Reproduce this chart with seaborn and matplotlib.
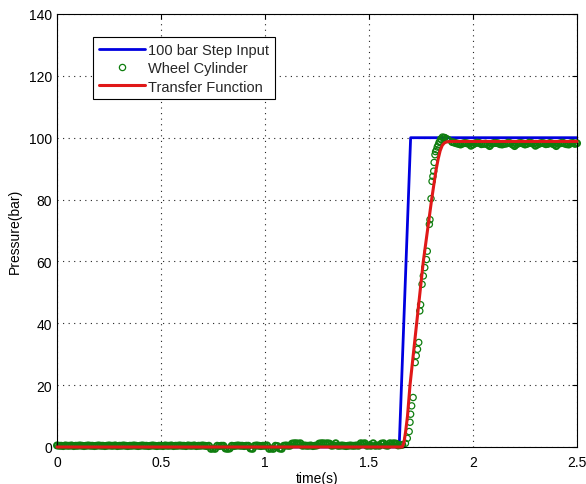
import numpy as np
import matplotlib
matplotlib.use("Agg")
import matplotlib.pyplot as plt
from matplotlib.lines import Line2D
import seaborn as sns

# ---- data -------------------------------------------------------------
# 100 bar step command
step_time = [0.0, 1.645, 1.700, 2.5]
step_pressure = [0.0, 0.0, 100.0, 100.0]

# identified transfer-function response
tf_time = [0.0, 1.660, 1.668, 1.676, 1.685, 1.697, 1.713, 1.729, 1.745, 1.761,
           1.781, 1.801, 1.812, 1.822, 1.832, 1.842, 1.852, 1.862, 1.875, 1.900, 2.5]
tf_pressure = [0.0, 0.0, 1.5, 5.0, 10.0, 20.0, 30.0, 40.0, 50.0, 60.0,
               70.0, 80.0, 85.0, 89.5, 93.0, 95.8, 97.5, 98.3, 98.7, 98.8, 98.8]

# measured wheel-cylinder pressure, idle phase (sampled every 0.01 s from t = 0)
wc_sample_period = 0.01
wc_idle_pressure = [
    0.5, 0.4, 0.4, 0.3, 0.5, 0.4, 0.4, 0.5, 0.3, 0.4,
    0.4, 0.5, 0.4, 0.3, 0.4, 0.5, 0.4, 0.4, 0.3, 0.4,
    0.5, 0.4, 0.4, 0.3, 0.4, 0.5, 0.4, 0.4, 0.5, 0.3,
    0.4, 0.4, 0.5, 0.4, 0.3, 0.4, 0.4, 0.5, 0.4, 0.3,
    0.4, 0.5, 0.4, 0.4, 0.3, 0.4, 0.5, 0.4, 0.3, 0.4,
    0.4, 0.3, 0.5, 0.4, 0.4, 0.5, 0.3, 0.4, 0.4, 0.5,
    0.4, 0.4, 0.3, 0.5, 0.4, 0.4, 0.5, 0.3, 0.4, 0.4,
    0.5, 0.4, 0.3, 0.4, -0.6, -0.5, -0.6, 0.4, 0.3, 0.4,
    0.4, -0.5, -0.6, -0.5, 0.4, 0.3, 0.4, 0.5, 0.4, 0.4,
    0.3, 0.4, 0.4, -0.5, -0.6, 0.4, 0.5, 0.4, 0.3, 0.4,
    0.4, 0.5, -0.6, -0.5, -0.6, 0.4, 0.3, -0.5, -0.6, 0.4,
    0.5, 0.4, 0.4, 1.1, 1.2, 1.2, 1.1, 1.2, 0.4, 0.5,
    0.4, 0.4, 0.5, 0.3, 0.4, 0.5, 1.1, 1.2, 1.2, 1.1,
    1.2, 1.1, 0.4, 0.5, 1.2, 0.4, 0.4, 0.5, 0.4, 0.3,
    0.4, 0.5, 0.4, 0.4, 0.5, 0.4, 1.2, 1.1, 1.2, 0.4,
    0.5, 0.4, 1.2, 0.4, 0.5, 0.4, 1.1, 1.2, 0.5, 0.4,
    1.2, 1.1, 1.2, 1.1, 0.5, 0.6, 0.7,
]

# measured wheel-cylinder pressure during the pressure build-up
wc_rise_time = [1.675, 1.684, 1.693, 1.697, 1.700, 1.705, 1.712, 1.722, 1.727, 1.733,
                1.739, 1.744, 1.748, 1.755, 1.761, 1.768, 1.776, 1.780, 1.790, 1.793,
                1.798, 1.803, 1.807, 1.811, 1.813, 1.817, 1.820, 1.825, 1.828, 1.833,
                1.837, 1.841, 1.845, 1.849, 1.853, 1.857, 1.861, 1.865, 1.873, 1.881]
wc_rise_pressure = [1.2, 2.8, 5.0, 8.0, 10.6, 13.3, 16.0, 27.3, 29.5, 31.6,
                    33.8, 44.0, 46.0, 52.6, 55.3, 58.0, 60.6, 63.3, 72.0, 73.5,
                    80.3, 85.9, 87.5, 89.2, 92.0, 94.5, 95.5, 96.1, 97.0, 97.7,
                    98.5, 98.8, 99.6, 99.4, 100.2, 99.9, 100.1, 100.0, 99.7, 99.4]

# measured wheel-cylinder pressure, settled phase (every 0.01 s from t = 1.90)
wc_settle_start = 1.90
wc_settle_pressure = [
    98.6, 98.4, 98.2, 98.0, 97.8, 98.1, 98.3, 98.2, 98.0, 97.4,
    97.8, 98.2, 98.4, 98.3, 97.9, 98.0, 98.1, 97.8, 97.3, 98.0,
    98.3, 98.3, 98.2, 97.9, 97.8, 98.0, 98.1, 98.4, 98.2, 97.8,
    97.3, 97.9, 98.2, 98.3, 98.1, 97.8, 98.0, 98.4, 98.3, 98.0,
    97.4, 97.8, 98.1, 98.3, 98.2, 97.9, 98.0, 98.3, 98.1, 97.8,
    97.3, 98.0, 98.2, 98.4, 98.1, 97.9, 97.8, 98.2, 98.3, 98.0,
    98.2,
]

x_ticks = [0, 0.5, 1, 1.5, 2, 2.5]
x_tick_labels = ["0", "0.5", "1", "1.5", "2", "2.5"]
y_ticks = [0, 20, 40, 60, 80, 100, 120, 140]

legend_labels = ["100 bar Step Input", "Wheel Cylinder", "Transfer Function"]

# ---- assemble the measured series -------------------------------------
wc_idle_time = np.arange(len(wc_idle_pressure)) * wc_sample_period
wc_settle_time = wc_settle_start + np.arange(len(wc_settle_pressure)) * wc_sample_period
wc_steady_time = np.concatenate([wc_idle_time, wc_settle_time])
wc_steady_pressure = np.concatenate([wc_idle_pressure, wc_settle_pressure])

# ---- style ------------------------------------------------------------
sns.set_theme(style="white")
plt.rcParams["font.family"] = ["Liberation Sans", "DejaVu Sans"]
plt.rcParams["axes.unicode_minus"] = False

BLUE = "#0000e0"
GREEN = "#0e7d0e"
RED = "#e01818"

fig = plt.figure(figsize=(5.86, 4.85), dpi=100)
fig.patch.set_facecolor("white")
ax = fig.add_axes([0.0973, 0.0763, 0.8874, 0.8928])
ax.set_facecolor("white")

sns.lineplot(x=step_time, y=step_pressure, color=BLUE, linewidth=2.0,
             estimator=None, sort=False, ax=ax, zorder=2, clip_on=False)
# densely sampled steady phases merge into a solid band of circles
sns.scatterplot(x=wc_steady_time, y=wc_steady_pressure, marker="o", s=19, color=GREEN,
                facecolors="none", edgecolor=GREEN, linewidth=1.4,
                ax=ax, zorder=2.5, clip_on=False, legend=False)
sns.scatterplot(x=wc_rise_time, y=wc_rise_pressure, marker="o", s=20, color=GREEN,
                facecolors="none", edgecolor=GREEN, linewidth=0.9,
                ax=ax, zorder=2.5, clip_on=False, legend=False)
sns.lineplot(x=tf_time, y=tf_pressure, color=RED, linewidth=2.2,
             estimator=None, sort=False, ax=ax, zorder=3, clip_on=False)

ax.set_xlim(0, 2.5)
ax.set_ylim(0, 140)
ax.set_xticks(x_ticks)
ax.set_xticklabels(x_tick_labels)
ax.set_yticks(y_ticks)

ax.grid(True, color="#222222", linestyle=(0, (1, 4)), linewidth=0.8)
for spine in ax.spines.values():
    spine.set_visible(True)
    spine.set_color("black")
    spine.set_linewidth(0.8)

ax.tick_params(axis="both", direction="in", length=3.5, width=0.8, color="black",
               top=True, right=True, labelsize=10, labelcolor="black")
ax.tick_params(axis="x", pad=6)
ax.tick_params(axis="y", pad=3.5)

ax.set_xlabel("time(s)", fontsize=10, color="black", labelpad=1)
ax.set_ylabel("Pressure(bar)", fontsize=10, color="black", labelpad=5)

handles = [
    Line2D([], [], color=BLUE, linewidth=2.0),
    Line2D([], [], color=GREEN, marker="o", linestyle="none", markersize=4.5,
           markerfacecolor="none", markeredgewidth=0.9),
    Line2D([], [], color=RED, linewidth=2.2),
]
leg = ax.legend(handles, legend_labels, loc="upper left",
                bbox_to_anchor=(93 / 586, 1 - 38 / 485), bbox_transform=fig.transFigure,
                borderaxespad=0, fontsize=10.5, frameon=True, fancybox=False,
                framealpha=1, edgecolor="black", handlelength=3.15, handletextpad=0.2,
                labelspacing=0.3, borderpad=0.4)
leg.get_frame().set_linewidth(0.8)

fig.savefig("out.png", dpi=100, facecolor="white")
